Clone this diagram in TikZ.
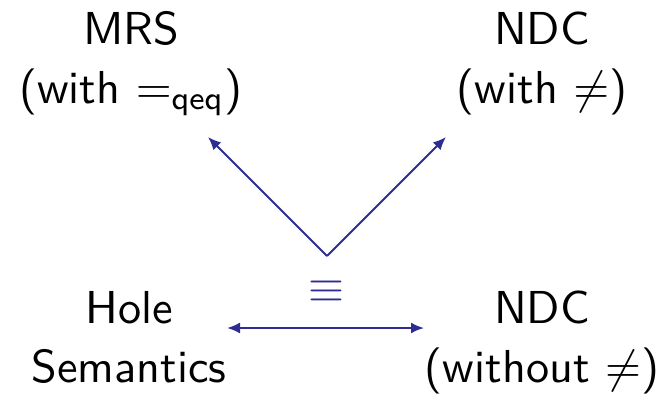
\RequirePackage{fix-cm}
\documentclass[tikz,border=0pt]{standalone}
\usetikzlibrary{arrows.meta}
\definecolor{arrowblue}{RGB}{45,45,145}
\begin{document}
\begin{tikzpicture}[x=1pt,y=-1pt,
  lbl/.style={align=center,inner sep=0pt,anchor=base,scale=4.62,transform shape,
    font=\sffamily\fontsize{10}{12.77}\selectfont},
  conn/.style={draw=arrowblue,line width=2pt,
    -{Latex[length=13pt,width=11pt]}},
  dconn/.style={draw=arrowblue,line width=2pt,
    {Latex[length=13pt,width=11pt]}-{Latex[length=13pt,width=11pt]}}]
\useasboundingbox (0,0) rectangle (663,393);
\node[lbl] (mrs) at (131,103) {MRS\\(with $=_{\mathsf{qeq}}$)};
\node[lbl] (ndcw) at (542,103) {NDC\\(with $\neq$)};
\node[lbl] (hole) at (129,382) {Hole\\Semantics};
\node[lbl] (ndcwo) at (542,382) {NDC\\(without $\neq$)};
\node[lbl,text=arrowblue] (eq) at (326,302) {$\equiv$};
\coordinate (v) at (327,256);
\coordinate (tl) at (208,137);
\coordinate (tr) at (446,137);
\coordinate (hl) at (227,328);
\coordinate (hr) at (424,328);
\draw[conn] (v) -- (tl);
\draw[conn] (v) -- (tr);
\draw[dconn] (hl) -- (hr);
\end{tikzpicture}
\end{document}
